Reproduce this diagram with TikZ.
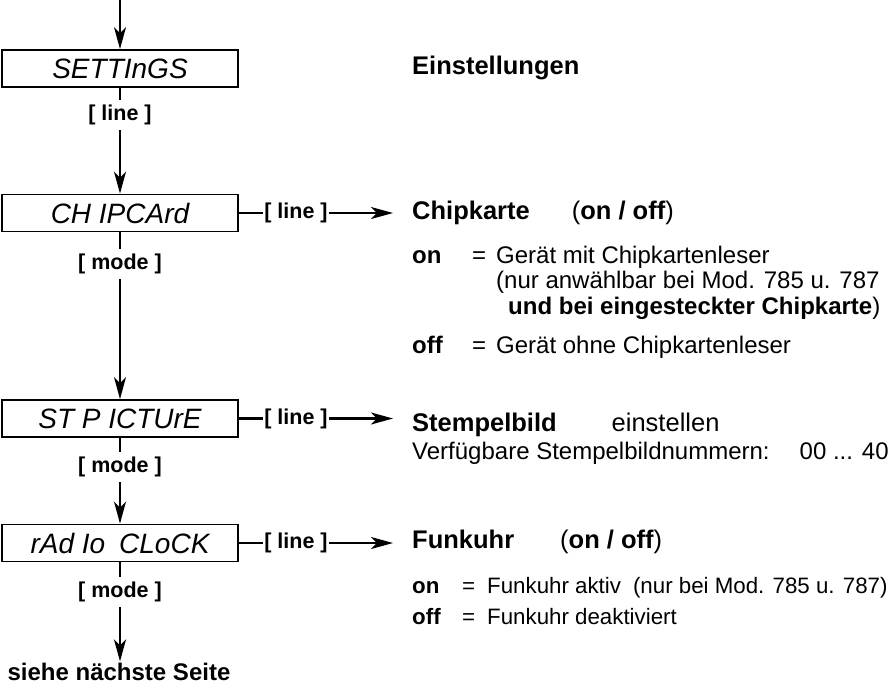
\documentclass[tikz,border=0pt]{standalone}
\usepackage{fontspec}
\setmainfont{Liberation Sans}
\usetikzlibrary{arrows.meta,positioning}

\begin{document}
\begin{tikzpicture}[
  x=1pt, y=-1pt,
  >={Stealth[length=22pt,width=12pt,inset=6pt]},
  wire/.style={line width=2.2pt},
  flow/.style={->, line width=2.2pt},
  disp/.style={draw, line width=1.8pt, minimum width=236pt, minimum height=37pt, inner sep=0pt, font=\fontsize{28}{30}\selectfont\itshape},
  key/.style={inner xsep=1pt, inner ysep=5pt, font=\fontsize{21.5}{24}\selectfont\bfseries},
  head/.style={anchor=west, inner sep=0pt, font=\fontsize{25.5}{28}\selectfont\bfseries},
  txt/.style={anchor=west, inner sep=0pt, font=\fontsize{24}{28}\selectfont},
  small/.style={anchor=west, inner sep=0pt, font=\fontsize{22.3}{26}\selectfont}
]
  \useasboundingbox (0,0) rectangle (893,686);

  % display boxes
  \coordinate (start) at (120,0);
  \node[disp] (settings) at (120,68.5) {SETTInGS};
  \node[disp] (chip) at (120,213) {CH IPCArd};
  \node[disp] (stp) at (120,418.5) {ST P ICTUrE};
  \node[disp] (radio) at (120,543) {rAd Io\hspace{14pt}CLoCK};
  \node[anchor=base, font=\fontsize{24}{28}\selectfont\bfseries, inner sep=1pt] (next) at (119,680) {siehe nächste Seite};

  % keys
  \node[key] (k1) at (120,115) {[ line ]};
  \node[key] (k2) at (120,264) {[ mode ]};
  \node[key] (k3) at (120,467) {[ mode ]};
  \node[key] (k4) at (120,592) {[ mode ]};
  \node[key] (kc) at (296,213) {[ line ]};
  \node[key] (ks) at (296,418.5) {[ line ]};
  \node[key] (kr) at (296,543) {[ line ]};

  % descriptions
  \node[head] (einst) at (412,68) {Einstellungen};

  \node[head] (chiphd) at (412,213) {Chipkarte\hspace{42pt}\mdseries(\bfseries on / off\mdseries)};
  \node[txt] (chipon) at (412,257) {\makebox[60pt][l]{\bfseries on}\makebox[24pt][l]{=}Gerät mit Chipkartenleser};
  \node[txt] (chipnur) at (496,282) {(nur anwählbar bei Mod. 785 u. 787};
  \node[txt] (chipund) at (508,308) {\bfseries und bei eingesteckter Chipkarte\mdseries)};
  \node[txt] (chipoff) at (412,347) {\makebox[60pt][l]{\bfseries off}\makebox[24pt][l]{=}Gerät ohne Chipkartenleser};

  \node[head] (stphd) at (412,425) {Stempelbild\hspace{55pt}\mdseries einstellen};
  \node[txt] (stpnr) at (412,453) {Verfügbare Stempelbildnummern:\hspace{30pt}00 ... 40};

  \node[head] (radiohd) at (412,542) {Funkuhr\hspace{46pt}\mdseries(\bfseries on / off\mdseries)};
  \node[small] (radioon) at (412,588) {\makebox[50pt][l]{\bfseries on}\makebox[25pt][l]{=}Funkuhr aktiv\hspace{12pt}(nur bei Mod. 785 u. 787)};
  \node[small] (radiooff) at (412,617) {\makebox[50pt][l]{\bfseries off}\makebox[25pt][l]{=}Funkuhr deaktiviert};

  % main flow
  \draw[flow] (start) -- (settings);
  \draw[wire] (settings) -- (k1);
  \draw[flow] (k1) -- (chip);
  \draw[wire] (chip) -- (k2);
  \draw[flow] (k2) -- (stp);
  \draw[wire] (stp) -- (k3);
  \draw[flow] (k3) -- (radio);
  \draw[wire] (radio) -- (k4);
  \draw[flow] (k4) -- (k4 |- next.north);

  % branches
  \draw[wire] (chip) -- (kc);
  \draw[flow, shorten >=19pt] (kc) -- (kc -| chiphd.west);
  \draw[wire] (stp) -- (ks);
  \draw[flow, shorten >=19pt] (ks) -- (ks -| stphd.west);
  \draw[wire] (radio) -- (kr);
  \draw[flow, shorten >=19pt] (kr) -- (kr -| radiohd.west);
\end{tikzpicture}
\end{document}
